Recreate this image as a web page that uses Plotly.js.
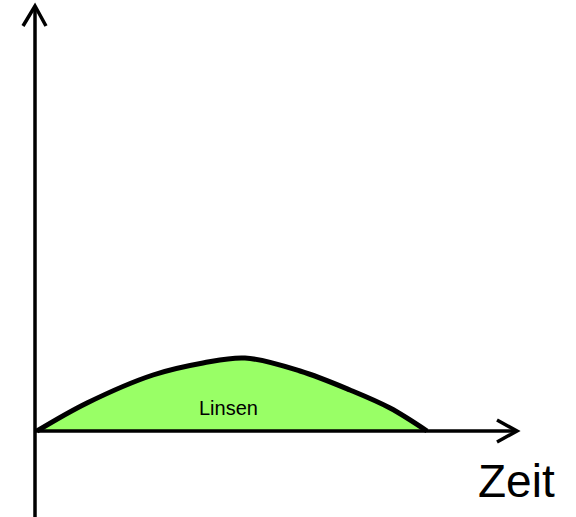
<!DOCTYPE html>
<html>
<head>
<meta charset="utf-8">
<script src="https://cdn.plot.ly/plotly-3.0.1.min.js"></script>
<style>html,body{margin:0;padding:0;background:#fff;}#chart{width:576px;height:517px;}</style>
</head>
<body>
<div id="chart"></div>
<script>
// Data (time along the x axis, amount of the "Linsen" curve)
const time   = [2, 52, 118, 168, 210, 265, 315, 355, 392];
const amount = [0, 28, 56, 68, 73, 60, 41, 23, 0];
const seriesLabel = "Linsen";
const xAxisLabel = "Zeit";

const xRange = [-35, 541];
const yRange = [-86, 431];
const xEnd = 482, yEnd = 425;

const trace = {
  x: time, y: amount,
  type: 'scatter', mode: 'lines',
  line: {color: '#000', width: 5, shape: 'spline', smoothing: 1},
  fill: 'tozeroy', fillcolor: '#99ff66',
  hoverinfo: 'skip', showlegend: false
};

const axLine = {color: '#000', width: 3.5};
const shapes = [
  {type: 'line', xref: 'x', yref: 'y', x0: 0, x1: 0, y0: yRange[0], y1: yEnd, line: axLine, layer: 'above'},
  {type: 'line', xref: 'x', yref: 'y', x0: 0, x1: xEnd, y0: 0, y1: 0, line: axLine, layer: 'above'},
  {type: 'path', xref: 'x', yref: 'y', path: `M -12,${yEnd-20} L 0,${yEnd} L 11,${yEnd-20}`, line: axLine, layer: 'above'},
  {type: 'path', xref: 'x', yref: 'y', path: `M ${xEnd-20},11 L ${xEnd},0 L ${xEnd-20},-11`, line: axLine, layer: 'above'}
];

const layout = {
  width: 576, height: 517,
  margin: {l: 0, r: 0, t: 0, b: 0},
  paper_bgcolor: '#fff', plot_bgcolor: '#fff',
  xaxis: {range: xRange, visible: false, fixedrange: true},
  yaxis: {range: yRange, visible: false, fixedrange: true},
  shapes: shapes,
  annotations: [
    {x: 193, y: 23, xref: 'x', yref: 'y', text: seriesLabel, showarrow: false,
     font: {family: 'Liberation Sans, Arial, sans-serif', size: 20, color: '#000'}},
    {x: 481, y: -50, xref: 'x', yref: 'y', text: xAxisLabel, showarrow: false,
     font: {family: 'Liberation Sans, Arial, sans-serif', size: 46, color: '#000'}}
  ]
};

Plotly.newPlot('chart', [trace], layout, {displayModeBar: false, staticPlot: true});
</script>
</body>
</html>
